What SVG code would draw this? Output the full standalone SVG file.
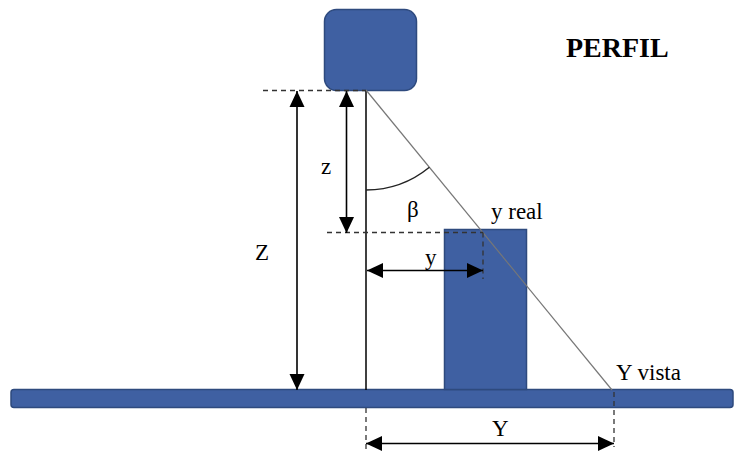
<svg xmlns="http://www.w3.org/2000/svg" width="739" height="453" viewBox="0 0 739 453">
<style>
.blk{fill:#3F60A2;stroke:#2E4A7E;stroke-width:1.5}
.dash{stroke:#333;stroke-width:1.3;stroke-dasharray:5,4;fill:none}
.dim{stroke:#000;stroke-width:1.6;fill:none}
</style>
<defs>
<marker id="ah" markerUnits="userSpaceOnUse" markerWidth="16" markerHeight="16" viewBox="0 0 16 16" refX="16" refY="8" orient="auto-start-reverse">
<path d="M0,0.5 L16,8 L0,15.5 Z" fill="#000"/>
</marker>
</defs>
<g id="ground"><rect class="blk" x="11" y="389.5" width="722" height="18" rx="3"/></g>
<g id="camera"><rect class="blk" x="324.5" y="9.5" width="92" height="81" rx="12"/></g>
<g id="object"><rect class="blk" x="444.5" y="229.5" width="82" height="160"/></g>
<g id="connectors">
<line x1="366" y1="90" x2="366" y2="390" stroke="#000" stroke-width="1.5"/>
<line x1="366" y1="90" x2="612" y2="390" stroke="#777" stroke-width="1.2"/>
<path d="M366,190 A100,100 0 0 0 429.4,167.3" fill="none" stroke="#222" stroke-width="1.4"/>
<line class="dash" x1="263" y1="90.5" x2="366" y2="90.5"/>
<line class="dash" x1="327" y1="232.5" x2="483" y2="232.5"/>
<line class="dash" x1="483" y1="232.5" x2="483" y2="279"/>
<line class="dash" x1="366" y1="408" x2="366" y2="453"/>
<line class="dash" x1="614" y1="392" x2="614" y2="447"/>
<line class="dim" x1="297" y1="91" x2="297" y2="390" marker-start="url(#ah)" marker-end="url(#ah)"/>
<line class="dim" x1="346.5" y1="91" x2="346.5" y2="233" marker-start="url(#ah)" marker-end="url(#ah)"/>
<line class="dim" x1="367" y1="270.5" x2="483" y2="270.5" marker-start="url(#ah)" marker-end="url(#ah)"/>
<line class="dim" x1="366" y1="443.5" x2="614" y2="443.5" marker-start="url(#ah)" marker-end="url(#ah)"/>
</g>
<g id="labels" font-family="Liberation Serif, serif" font-size="23" fill="#000">
<text x="321" y="174">z</text>
<text x="255" y="260">Z</text>
<text x="407" y="217">β</text>
<text x="491" y="219">y real</text>
<text x="425" y="265">y</text>
<text x="492" y="436">Y</text>
<text x="616" y="380">Y vista</text>
<text x="566" y="57" font-size="28" font-weight="bold">PERFIL</text>
</g>
</svg>
